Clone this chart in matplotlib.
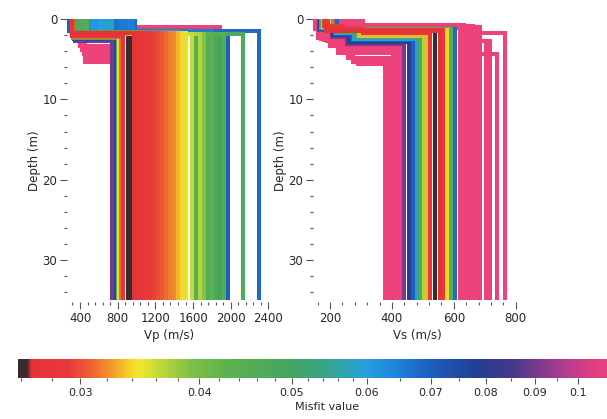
import numpy as np
import matplotlib
matplotlib.use("Agg")
import matplotlib.pyplot as plt
from matplotlib.colors import LinearSegmentedColormap, LogNorm
from matplotlib.cm import ScalarMappable
from matplotlib.ticker import MultipleLocator, FixedLocator, NullFormatter

# ---- Vp models: misfit, layer interfaces (m), layer velocities (m/s) ----
vp_misfit = [
    0.125, 0.13, 0.125, 0.12, 0.118, 0.115,
    0.09, 0.075, 0.045, 0.034, 0.031, 0.0275, 0.0258, 0.026,
    0.07, 0.068, 0.067, 0.067, 0.066, 0.066, 0.065, 0.065,
    0.062, 0.061, 0.061, 0.06, 0.06, 0.059, 0.058,
    0.048, 0.047, 0.046, 0.045,
    0.0268, 0.0275, 0.028, 0.0285, 0.029, 0.0295, 0.030, 0.0305, 0.031,
    0.0315, 0.032, 0.033, 0.034, 0.035,
    0.036, 0.044, 0.037, 0.039, 0.046, 0.043, 0.048, 0.05, 0.045, 0.047,
]
vp_interfaces = [
    [1.05], [1.7, 5.3], [1.7, 4.8], [1.7, 4.3], [1.7, 3.8], [1.7, 3.3],
    [2.7], [2.55], [2.4], [2.3], [2.2], [2.1], [1.75], [1.75],
    [1.5], [1.5], [1.5], [1.5], [1.5], [1.5], [1.5], [1.5],
    [1.65], [1.65], [1.65], [1.65], [1.65], [1.65], [1.65],
    [1.65], [1.65], [1.65], [1.65],
    [1.8], [1.8], [1.8], [1.8], [1.8], [1.8], [1.8], [1.8], [1.8],
    [1.8], [1.8], [1.8], [1.8], [1.8],
    [1.85], [1.85], [1.85], [1.85], [1.85], [1.85], [1.85], [1.85], [1.85], [1.85],
]
vp_velocities = [
    [320, 1882], [320, 455, 745], [320, 450, 750], [320, 440, 755], [320, 425, 760], [320, 400, 765],
    [345, 739], [335, 781], [330, 800], [325, 818], [322, 836], [320, 858], [320, 912], [320, 927],
    [270, 1966], [985, 2305], [760, 1479], [800, 1521], [840, 1585], [880, 1628], [920, 1712], [960, 1797],
    [495, 1183], [535, 1225], [575, 1268], [615, 1310], [655, 1352], [695, 1395], [735, 1437],
    [355, 971], [395, 1014], [435, 1056], [475, 1098],
    [320, 971], [320, 1014], [320, 1056], [320, 1098], [320, 1141], [320, 1183], [320, 1225], [320, 1268], [320, 1310],
    [320, 1352], [320, 1395], [320, 1437], [320, 1479], [320, 1521],
    [320, 1585], [320, 1628], [320, 1670], [320, 1712], [320, 1755], [320, 1797], [320, 1840], [320, 1882], [320, 1924], [320, 2125],
]

# ---- Vs models ----
vs_misfit = [
    0.0258, 0.029, 0.033, 0.037, 0.047, 0.06, 0.07, 0.08, 0.09,
    0.027, 0.029, 0.034, 0.045, 0.068,
    0.13, 0.128, 0.126, 0.124, 0.122, 0.12, 0.118, 0.116, 0.114,
    0.13, 0.128, 0.126, 0.124, 0.122, 0.12, 0.118, 0.117, 0.116, 0.115, 0.114, 0.113, 0.112, 0.11,
]
vs_interfaces = [
    [0.8, 1.15, 1.5], [0.85, 1.3, 1.75], [0.9, 1.4, 1.95], [0.95, 1.5, 2.1], [1.0, 1.6, 2.25],
    [1.1, 1.75, 2.45], [1.2, 1.9, 2.65], [1.3, 2.05, 2.85], [1.4, 2.2, 3.05],
    [1.45], [1.4], [1.35], [1.3], [1.25],
    [1.3, 2.4, 3.3, 4.2, 4.8, 5.6], [1.3, 2.5, 3.35], [1.3, 2.6, 3.75], [1.3, 2.7, 4.2],
    [1.3, 2.3, 4.9], [1.3, 2.2, 5.3], [1.2, 3.0], [1.3, 2.0, 2.9], [1.3, 2.1, 3.1],
    [0.8], [0.8], [0.8], [0.85], [0.85], [0.9], [0.9], [0.95], [0.95], [1.0],
    [1.0, 1.8], [1.05, 2.8], [1.05, 2.8], [1.1, 4.3],
]
vs_velocities = [
    [185, 245, 315, 540], [182, 240, 308, 524], [180, 235, 300, 513], [177, 230, 292, 503],
    [175, 225, 285, 492], [172, 220, 278, 480], [170, 215, 270, 468], [168, 210, 262, 455],
    [165, 205, 255, 440],
    [188, 555], [192, 566], [198, 578], [206, 590], [222, 603],
    [150, 161, 200, 226, 258, 290, 378], [152, 170, 205, 428], [153, 180, 228, 415], [154, 190, 240, 402],
    [155, 185, 262, 390], [156, 195, 275, 383], [157, 215, 432], [160, 175, 245, 436], [162, 200, 250, 420],
    [306, 620], [296, 627], [284, 634], [272, 641], [260, 648], [248, 655], [236, 662], [224, 669],
    [212, 676], [200, 684],
    [188, 684, 765], [176, 676, 718], [164, 676, 705], [152, 684, 740],
]

bottom_depth = 34.9

# misfit colour scale (dark below dark_limit, then red -> yellow -> green -> blue -> pink)
misfit_min, misfit_max = 0.0258, 0.115
dark_limit = 0.0263
scale_misfit = [0.0258, dark_limit, 0.0266, 0.029, 0.0305, 0.032, 0.0335, 0.0345, 0.0365,
                0.039, 0.043, 0.05, 0.055, 0.06, 0.065, 0.07, 0.078, 0.085, 0.09,
                0.097, 0.105, 0.115]
scale_colors = ['#3a2c2c', '#3a2c2c', '#e53338', '#e8383a', '#ee5a32', '#f28e2c', '#f4c92a',
                '#f2e82c', '#bcd63a', '#7fc145', '#5cb050', '#44a562', '#35a592', '#259fe0',
                '#1f7fd6', '#1d5fbe', '#233f94', '#40388a', '#733a8e', '#b03c8f', '#e2407e',
                '#ee437a']
lo, hi = np.log10(misfit_min), np.log10(misfit_max)
pos = [(np.log10(m) - lo) / (hi - lo) for m in scale_misfit]
pos[0], pos[-1] = 0.0, 1.0
cmap = LinearSegmentedColormap.from_list('misfit', list(zip(pos, scale_colors)))
norm = LogNorm(vmin=misfit_min, vmax=misfit_max, clip=True)

plt.rcParams['font.family'] = 'DejaVu Sans'
text_color = '#262626'
tick_color = '#555555'

fig = plt.figure(figsize=(6.07, 4.19), dpi=100)
ax_vp = fig.add_axes([0.1104, 0.2792, 0.3349, 0.6755])
ax_vs = fig.add_axes([0.5157, 0.2792, 0.3442, 0.6755])


def draw_profiles(ax, misfit, interfaces, velocities):
    # worst models first, so better ones sit on top; the dark best profiles
    # go underneath so they only show where nothing covers them
    misfit = np.asarray(misfit)
    order = np.argsort(-misfit, kind='stable')
    order = [i for i in order if misfit[i] < dark_limit] + \
            [i for i in order if misfit[i] >= dark_limit]
    for i in order:
        z = [0.0]
        for d in interfaces[i]:
            z += [d, d]
        z.append(bottom_depth)
        x = []
        for v in velocities[i]:
            x += [v, v]
        ax.plot(x, z, color=cmap(norm(misfit[i])), lw=2.9,
                solid_joinstyle='miter', solid_capstyle='butt')


draw_profiles(ax_vp, vp_misfit, vp_interfaces, vp_velocities)
draw_profiles(ax_vs, vs_misfit, vs_interfaces, vs_velocities)

ax_vp.set_xlim(262, 2420)
ax_vp.xaxis.set_major_locator(MultipleLocator(400))
ax_vp.xaxis.set_minor_locator(MultipleLocator(80))
ax_vp.set_xlabel('Vp (m/s)', fontsize=8.5, color=text_color, labelpad=3)

ax_vs.set_xlim(145, 820)
ax_vs.xaxis.set_major_locator(MultipleLocator(200))
ax_vs.xaxis.set_minor_locator(MultipleLocator(40))
ax_vs.set_xlabel('Vs (m/s)', fontsize=8.5, color=text_color, labelpad=3)

for ax in (ax_vp, ax_vs):
    for s in ax.spines.values():
        s.set_visible(False)
    ax.set_ylim(35.2, 0)
    ax.yaxis.set_major_locator(MultipleLocator(10))
    ax.yaxis.set_minor_locator(MultipleLocator(2))
    ax.tick_params(which='major', length=5, width=0.8, color=tick_color,
                   labelsize=8.5, labelcolor=text_color, pad=2)
    ax.tick_params(which='minor', length=2.5, width=0.8, color=tick_color)
    ax.set_ylabel('Depth (m)', fontsize=8.5, color=text_color, labelpad=1)

# colour bar along the bottom
cax = fig.add_axes([18 / 607, 0.0979, (636 - 18) / 607, 0.0453])
cb = fig.colorbar(ScalarMappable(norm=norm, cmap=cmap), cax=cax, orientation='horizontal')
cb.outline.set_visible(False)
major = [0.03, 0.04, 0.05, 0.06, 0.07, 0.08, 0.09, 0.1]
minor = [0.026, 0.028, 0.032, 0.034, 0.036, 0.038, 0.042, 0.044, 0.046, 0.048,
         0.052, 0.054, 0.056, 0.058, 0.065, 0.075, 0.085, 0.095, 0.11]
cb.set_ticks(major)
cb.set_ticklabels(['0.03', '0.04', '0.05', '0.06', '0.07', '0.08', '0.09', '0.1'])
cax.xaxis.set_minor_locator(FixedLocator(minor))
cax.xaxis.set_minor_formatter(NullFormatter())
cax.tick_params(which='major', length=4, width=0.8, color=tick_color,
                labelsize=8, labelcolor=text_color, pad=3)
cax.tick_params(which='minor', length=2.5, width=0.8, color=tick_color)
cb.set_label('Misfit value', fontsize=8, color=text_color, labelpad=3)

fig.savefig('out.png', dpi=100)
